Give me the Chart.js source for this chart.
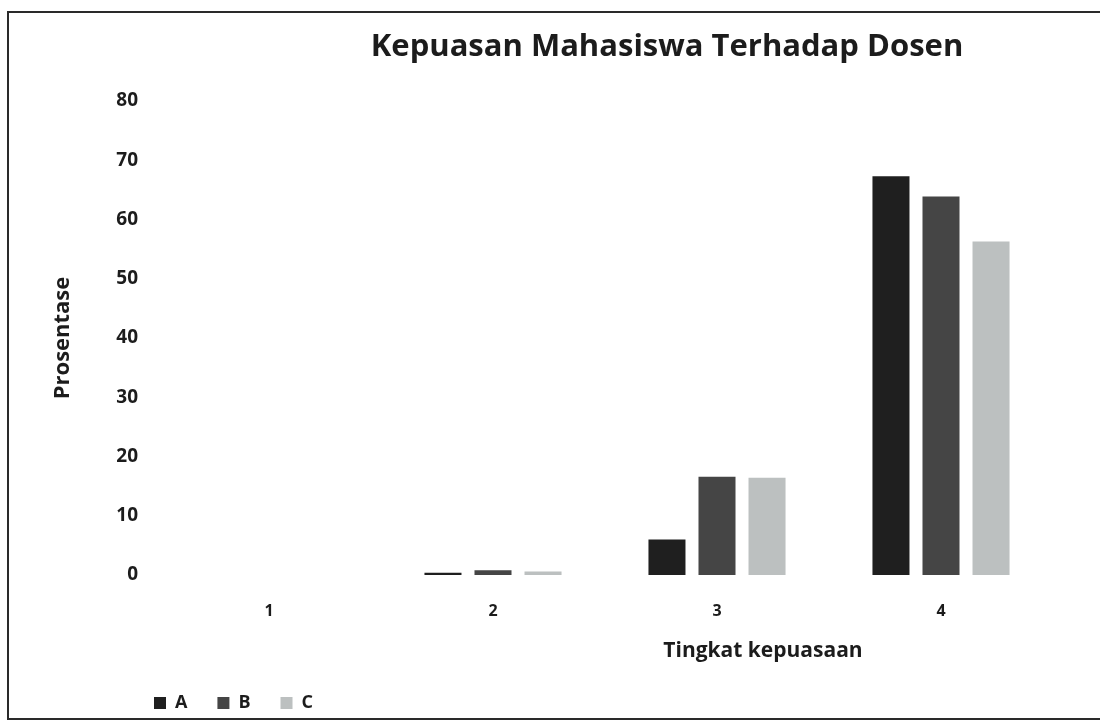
<!DOCTYPE html>
<html>
<head>
<meta charset="utf-8">
<script src="https://cdn.jsdelivr.net/npm/chart.js@4.4.0/dist/chart.umd.min.js"></script>
<style>
    body { margin: 0; background: #fff; }
</style>
</head>
<body>
<canvas id="bar-chart" width="1100" height="723"></canvas>
<script>
// Data grafik
const categories = ['1', '2', '3', '4'];
const seriesA = [0, 0.4, 6, 67.3];
const seriesB = [0, 0.8, 16.6, 63.9];
const seriesC = [0, 0.6, 16.4, 56.3];
const yTicks = [0, 10, 20, 30, 40, 50, 60, 70, 80];

const textColor = '#1c1c1c';
const fontFamily = '"Open Sans", "Liberation Sans", sans-serif';

// Bingkai + latar
const framePlugin = {
    id: 'frame',
    beforeDraw(chart) {
        const ctx = chart.ctx;
        ctx.save();
        ctx.fillStyle = '#ffffff';
        ctx.fillRect(0, 0, chart.width, chart.height);
        ctx.strokeStyle = '#2a2a2a';
        ctx.lineWidth = 2;
        ctx.strokeRect(8, 12, 1100, 707);
        ctx.restore();

        // Geser legenda ke kiri bawah
        const lg = chart.legend;
        if (lg) {
            const w = lg.width, h = lg.height;
            lg.left = 124;
            lg.right = lg.left + w;
            lg.top = 664;
            lg.bottom = lg.top + h;
        }
    },
    afterDraw(chart) {
        const ctx = chart.ctx;
        ctx.save();
        ctx.fillStyle = textColor;
        ctx.textAlign = 'center';
        ctx.textBaseline = 'middle';
        ctx.font = 'bold 31px ' + fontFamily;
        ctx.fillText('Kepuasan Mahasiswa Terhadap Dosen', 667, 47);
        ctx.font = 'bold 21px ' + fontFamily;
        ctx.fillText('Tingkat kepuasaan', 763, 651);
        ctx.restore();
    }
};

const barChartData = {
    labels: categories,
    datasets: [{
        label: 'A',
        data: seriesA,
        backgroundColor: '#1f1f1f'
    }, {
        label: 'B',
        data: seriesB,
        backgroundColor: '#454545'
    }, {
        label: 'C',
        data: seriesC,
        backgroundColor: '#bcc0c0'
    }]
};

const barChartElement = document.getElementById('bar-chart');
new Chart(barChartElement, {
    type: 'bar',
    data: barChartData,
    plugins: [framePlugin],
    options: {
        responsive: false,
        animation: false,
        categoryPercentage: 0.67,
        barPercentage: 0.74,
        layout: {
            padding: { top: 101, right: 47, bottom: 0, left: 0 }
        },
        plugins: {
            title: { display: false },
            tooltip: { enabled: false },
            legend: {
                position: 'bottom',
                align: 'start',
                labels: {
                    boxWidth: 12,
                    boxHeight: 12,
                    padding: 30,
                    color: textColor,
                    font: { family: fontFamily, size: 18, weight: 'bold' }
                }
            }
        },
        scales: {
            x: {
                grid: { display: false, drawTicks: false },
                border: { display: false },
                ticks: {
                    padding: 27,
                    color: textColor,
                    font: { family: fontFamily, size: 16, weight: 'bold' }
                },
                afterFit(scale) {
                    scale.height = 90;
                }
            },
            y: {
                min: 0,
                max: 80,
                grid: { display: false, drawTicks: false },
                border: { display: false },
                afterBuildTicks(scale) {
                    scale.ticks = yTicks.map(v => ({ value: v }));
                },
                ticks: {
                    padding: 19,
                    color: textColor,
                    font: { family: fontFamily, size: 19, weight: 'bold' }
                },
                title: {
                    display: true,
                    text: 'Prosentase',
                    color: textColor,
                    padding: { top: 50, bottom: 0 },
                    font: { family: fontFamily, size: 22, weight: 'bold' }
                },
                afterFit(scale) {
                    scale.width = 157;
                }
            }
        }
    }
});
</script>
</body>
</html>
